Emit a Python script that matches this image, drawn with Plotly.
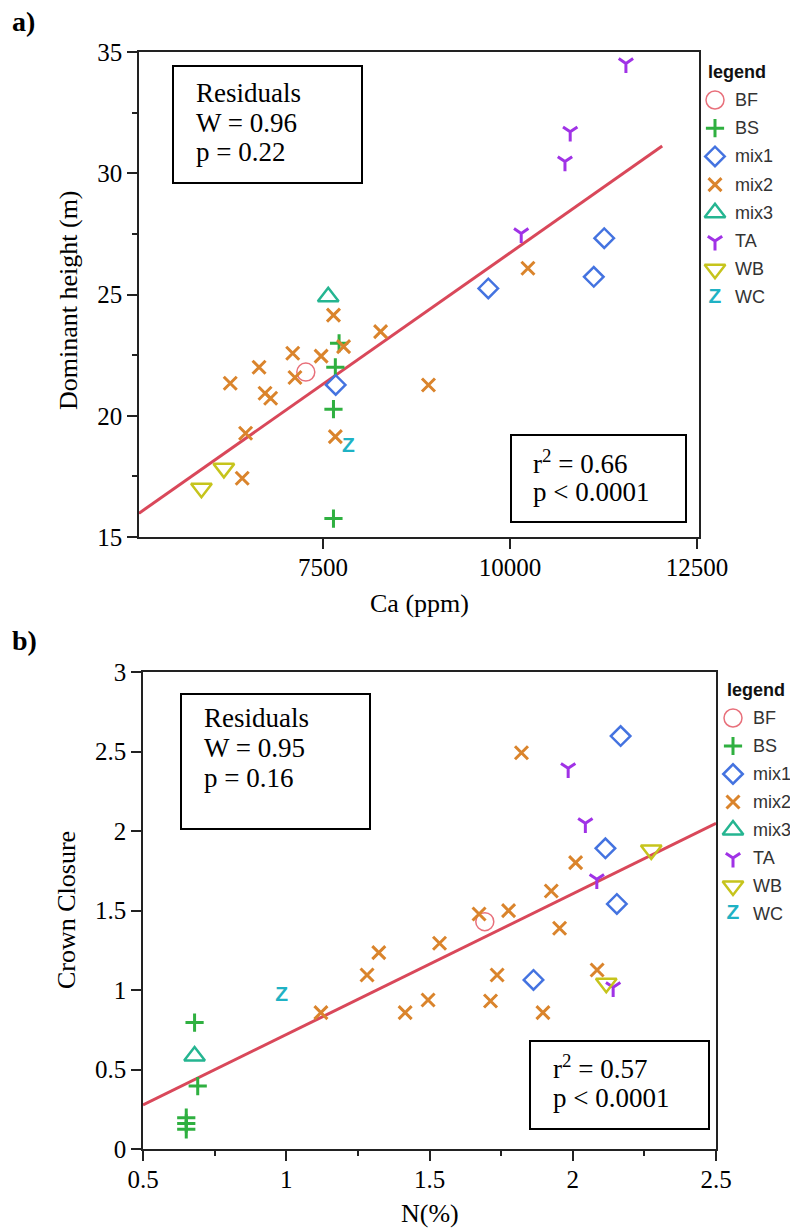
import plotly.graph_objects as go

W, H = 790, 1230

# ---------------- data: panel a (Ca ppm vs dominant height m) ----------------
a_BF_x = [7270]
a_BF_y = [21.80]
a_BS_x = [7715, 7665, 7640, 7640]
a_BS_y = [22.99, 22.00, 20.27, 15.76]
a_mix1_x = [7670, 9710, 11120, 11260]
a_mix1_y = [21.27, 25.25, 25.73, 27.32]
a_mix2_x = [7640, 8270, 7775, 7095, 7475, 6645, 7125, 6260, 8910, 6725, 6800, 6465, 7665, 6420, 10240]
a_mix2_y = [24.15, 23.47, 22.85, 22.58, 22.46, 22.00, 21.58, 21.34, 21.27, 20.93, 20.72, 19.28, 19.14, 17.42, 26.08]
a_mix3_x = [7570]
a_mix3_y = [24.91]
a_TA_x = [11550, 10805, 10735, 10150]
a_TA_y = [34.53, 31.71, 30.48, 27.52]
a_WB_x = [6175, 5875]
a_WB_y = [17.83, 17.01]
a_WC_x = [7840]
a_WC_y = [18.72]
a_fit_x = [5040, 12035]
a_fit_y = [15.98, 31.12]
a_xticks = [7500, 10000, 12500]
a_xticklabels = ["7500", "10000", "12500"]

# ---------------- data: panel b (N % vs crown closure) ----------------
b_BF_x = [1.693]
b_BF_y = [1.430]
b_BS_x = [0.680, 0.691, 0.651, 0.651, 0.651]
b_BS_y = [0.795, 0.396, 0.197, 0.161, 0.124]
b_mix1_x = [2.167, 2.114, 2.154, 1.863]
b_mix1_y = [2.597, 1.891, 1.541, 1.063]
b_mix2_x = [1.821, 2.010, 1.925, 1.776, 1.673, 1.954, 1.535, 1.323, 1.282, 1.736,
            2.085, 1.495, 1.713, 1.121, 1.415, 1.896]
b_mix2_y = [2.492, 1.801, 1.623, 1.499, 1.478, 1.388, 1.294, 1.235, 1.094, 1.094,
            1.126, 0.937, 0.931, 0.858, 0.858, 0.858]
b_mix3_x = [0.680]
b_mix3_y = [0.585]
b_TA_x = [1.984, 2.044, 2.084, 2.141]
b_TA_y = [2.394, 2.048, 1.696, 1.017]
b_WB_x = [2.274, 2.117]
b_WB_y = [1.881, 1.042]
b_WC_x = [0.984]
b_WC_y = [0.962]
b_fit_x = [0.5, 2.5]
b_fit_y = [0.277, 2.048]

groups = ["BF", "BS", "mix1", "mix2", "mix3", "TA", "WB", "WC"]

panel_a = {"BF": (a_BF_x, a_BF_y), "BS": (a_BS_x, a_BS_y), "mix1": (a_mix1_x, a_mix1_y),
           "mix2": (a_mix2_x, a_mix2_y), "mix3": (a_mix3_x, a_mix3_y), "TA": (a_TA_x, a_TA_y),
           "WB": (a_WB_x, a_WB_y), "WC": (a_WC_x, a_WC_y)}
panel_b = {"BF": (b_BF_x, b_BF_y), "BS": (b_BS_x, b_BS_y), "mix1": (b_mix1_x, b_mix1_y),
           "mix2": (b_mix2_x, b_mix2_y), "mix3": (b_mix3_x, b_mix3_y), "TA": (b_TA_x, b_TA_y),
           "WB": (b_WB_x, b_WB_y), "WC": (b_WC_x, b_WC_y)}

# ---------------- styles ----------------
style = {
    "BF":   dict(color="#e8707b", symbol="circle-open", size=18, lw=1.5),
    "BS":   dict(color="#2fb040", symbol="cross-thin-open", size=13, lw=3),
    "mix1": dict(color="#4473e0", symbol="diamond-open", size=15, lw=2.5),
    "mix2": dict(color="#da842c", symbol="x-thin-open", size=13, lw=3),
    "mix3": dict(color="#25b591", symbol="triangle-up-open", size=18, lw=2.5),
    "TA":   dict(color="#a032e6", symbol="y-down-open", size=12, lw=3),
    "WB":   dict(color="#c6c41c", symbol="triangle-down-open", size=18, lw=2.5),
    "WC":   dict(color="#1fb2c4", symbol=None, size=21, lw=0),
}
FIT_COLOR = "#d9485a"
AXIS_COLOR = "#222222"
SERIF = "Liberation Serif"
SANS = "Liberation Sans"

fig = go.Figure()


def add_points(xs, ys, g, xa, ya):
    s = style[g]
    if g == "WC":
        fig.add_trace(go.Scatter(
            x=xs, y=ys, mode="text", text=["Z"] * len(xs), textposition="middle center",
            textfont=dict(family=SANS, size=s["size"], color=s["color"], weight="bold"),
            xaxis=xa, yaxis=ya, showlegend=False, name=g))
    else:
        fig.add_trace(go.Scatter(
            x=xs, y=ys, mode="markers", name=g, showlegend=False, xaxis=xa, yaxis=ya,
            marker=dict(symbol=s["symbol"], size=s["size"], color=s["color"],
                        line=dict(color=s["color"], width=s["lw"]))))


# fit lines
fig.add_trace(go.Scatter(x=a_fit_x, y=a_fit_y, mode="lines", line=dict(color=FIT_COLOR, width=3),
                         xaxis="x", yaxis="y", showlegend=False, hoverinfo="skip"))
fig.add_trace(go.Scatter(x=b_fit_x, y=b_fit_y, mode="lines", line=dict(color=FIT_COLOR, width=3),
                         xaxis="x2", yaxis="y2", showlegend=False, hoverinfo="skip"))

for g in groups:
    add_points(*panel_a[g], g, "x", "y")
for g in groups:
    add_points(*panel_b[g], g, "x2", "y2")


def px(v):
    return v / W


def py(v):
    return 1 - v / H


# ---------------- custom legends (overlay axis in pixel units) ----------------
legends = [
    dict(title_x=706, mark_x=715, text_x=733, title_y=72, first_y=100, step=28.2),
    dict(title_x=725, mark_x=733, text_x=751, title_y=690, first_y=718, step=28.0),
]
annotations = []
for L in legends:
    annotations.append(dict(text="<b>legend</b>", x=px(L["title_x"]), y=py(L["title_y"]),
                            xref="paper", yref="paper", xanchor="left", yanchor="middle",
                            showarrow=False, font=dict(family=SANS, size=18, color="#111111")))
    for i, g in enumerate(groups):
        yy = L["first_y"] + i * L["step"]
        s = style[g]
        if g == "WC":
            fig.add_trace(go.Scatter(
                x=[L["mark_x"]], y=[yy], mode="text", text=["Z"],
                textfont=dict(family=SANS, size=s["size"], color=s["color"], weight="bold"),
                xaxis="x3", yaxis="y3", showlegend=False, hoverinfo="skip"))
        else:
            fig.add_trace(go.Scatter(
                x=[L["mark_x"]], y=[yy], mode="markers", xaxis="x3", yaxis="y3",
                showlegend=False, hoverinfo="skip",
                marker=dict(symbol=s["symbol"], size=s["size"], color=s["color"],
                            line=dict(color=s["color"], width=s["lw"]))))
        annotations.append(dict(text=g, x=px(L["text_x"]), y=py(yy), xref="paper", yref="paper",
                                xanchor="left", yanchor="middle", showarrow=False,
                                font=dict(family=SANS, size=18, color="#333333")))

# ---------------- stats boxes ----------------
boxes = [
    dict(rect=(173, 66, 362, 183), left=194, lines=["Residuals", "W = 0.96", "p = 0.22"], ys=[93, 122.5, 152]),
    dict(rect=(511, 435, 686, 522), left=531, lines=["r<sup>2</sup> = 0.66", "p &lt; 0.0001"], ys=[462, 492]),
    dict(rect=(181, 694, 370, 829), left=202, lines=["Residuals", "W = 0.95", "p = 0.16"], ys=[718, 748, 778]),
    dict(rect=(530, 1041, 709, 1129), left=551, lines=["r<sup>2</sup> = 0.57", "p &lt; 0.0001"], ys=[1067, 1098]),
]
shapes = []
for b in boxes:
    x0, y0, x1, y1 = b["rect"]
    shapes.append(dict(type="rect", xref="paper", yref="paper", x0=px(x0), x1=px(x1),
                       y0=py(y1), y1=py(y0), line=dict(color="black", width=2),
                       fillcolor="rgba(0,0,0,0)"))
    for t, yy in zip(b["lines"], b["ys"]):
        annotations.append(dict(text=t, x=px(b["left"]), y=py(yy), xref="paper", yref="paper",
                                xanchor="left", yanchor="middle", showarrow=False,
                                font=dict(family=SERIF, size=27, color="black")))

# panel letters and axis titles
title_font = dict(family=SERIF, size=26, color="black")
annotations += [
    dict(text="<b>a)</b>", x=px(10), y=py(21), xref="paper", yref="paper", xanchor="left",
         yanchor="middle", showarrow=False, font=dict(family=SERIF, size=28, color="black")),
    dict(text="<b>b)</b>", x=px(10), y=py(640), xref="paper", yref="paper", xanchor="left",
         yanchor="middle", showarrow=False, font=dict(family=SERIF, size=28, color="black")),
    dict(text="Dominant height (m)", x=px(68), y=py(300), xref="paper", yref="paper",
         xanchor="center", yanchor="middle", textangle=-90, showarrow=False, font=title_font),
    dict(text="Ca (ppm)", x=px(419), y=py(603), xref="paper", yref="paper",
         xanchor="center", yanchor="middle", showarrow=False, font=title_font),
    dict(text="Crown Closure", x=px(66), y=py(910), xref="paper", yref="paper",
         xanchor="center", yanchor="middle", textangle=-90, showarrow=False, font=title_font),
    dict(text="N(%)", x=px(430), y=py(1213), xref="paper", yref="paper",
         xanchor="center", yanchor="middle", showarrow=False, font=title_font),
]

tickfont = dict(family=SERIF, size=25, color="black")
axis_common = dict(showline=True, linecolor=AXIS_COLOR, linewidth=1.5, mirror=True,
                   ticks="outside", ticklen=10, tickwidth=1.5, tickcolor=AXIS_COLOR,
                   showgrid=False, zeroline=False, tickfont=tickfont, fixedrange=True,
                   automargin=False)

fig.update_layout(
    width=W, height=H, margin=dict(l=0, r=0, t=0, b=0, pad=0, autoexpand=False),
    paper_bgcolor="white", plot_bgcolor="rgba(0,0,0,0)", showlegend=False,
    xaxis=dict(domain=[px(139), px(699)], range=[5040, 12527], tickvals=a_xticks,
               ticktext=a_xticklabels, anchor="y", ticklabelstandoff=-3, **axis_common),
    yaxis=dict(domain=[py(537), py(52)], range=[15, 35], dtick=5, tick0=15, anchor="x",
               minor=dict(dtick=2.5, ticks="outside", ticklen=5, tickcolor=AXIS_COLOR, showgrid=False),
               **axis_common),
    xaxis2=dict(domain=[px(143), px(716)], range=[0.5, 2.5], dtick=0.5, tick0=0.5, anchor="y2",
                ticklabelstandoff=-3,
                minor=dict(dtick=0.25, ticks="outside", ticklen=5, tickcolor=AXIS_COLOR, showgrid=False),
                **axis_common),
    yaxis2=dict(domain=[py(1149), py(672)], range=[0, 3], dtick=0.5, tick0=0, anchor="x2",
                **axis_common),
    xaxis3=dict(domain=[0, 1], range=[0, W], visible=False, anchor="y3", fixedrange=True),
    yaxis3=dict(domain=[0, 1], range=[H, 0], visible=False, anchor="x3", fixedrange=True),
    annotations=annotations, shapes=shapes,
)

fig.write_html("out.html", config={"responsive": False, "displayModeBar": False})

# remove the browser's default body margin so the figure sits at the page origin
with open("out.html", "r", encoding="utf-8") as f:
    html = f.read()
html = html.replace("<head>", "<head><style>html,body{margin:0;padding:0;overflow:hidden;}</style>", 1)
with open("out.html", "w", encoding="utf-8") as f:
    f.write(html)
